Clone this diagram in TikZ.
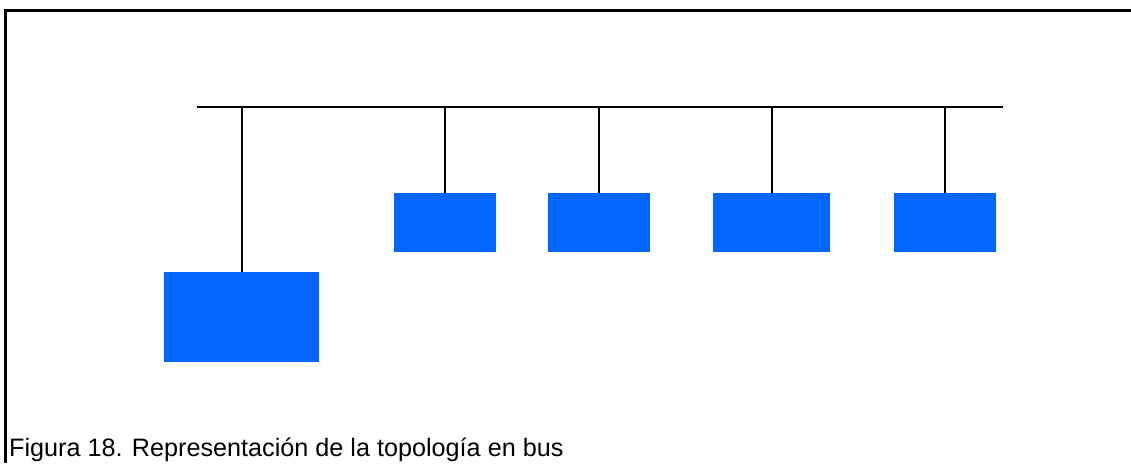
\documentclass[tikz,border=0pt]{standalone}
\usepackage{fontspec}
\setmainfont{Liberation Sans}
\begin{document}
\begin{tikzpicture}[x=1pt,y=-1pt,
  station/.style={fill=stationblue,draw=none,inner sep=0pt,minimum width=102pt,minimum height=59pt},
  tap/.style={draw=black,line width=2pt},
  frame/.style={draw=black,line width=3pt}]
\definecolor{stationblue}{HTML}{0066FF}
\useasboundingbox (0,0) rectangle (1131,463);
% partial frame: top and left edges
\draw[frame] (1131,10) -- (5.5,10) -- (5.5,463);
% bus line
\coordinate (busL) at (197,107);
\coordinate (busR) at (1003,107);
\draw[tap] (busL) -- (busR);
% stations
\node[station,minimum width=155pt,minimum height=90pt] (s0) at (241.5,317) {};
\node[station] (s1) at (445,222.5) {};
\node[station] (s2) at (599,222.5) {};
\node[station,minimum width=117pt] (s3) at (771.5,222.5) {};
\node[station] (s4) at (945,222.5) {};
% drop cables
\foreach \s in {s0,s1,s2,s3,s4}
  \draw[tap] (\s.north |- busL) -- (\s.north);
% caption
\node[anchor=base west,inner sep=0pt,font=\fontsize{25.2}{28}\selectfont] (cap) at (9,456) {Figura 18. Representación de la topología en bus};
\end{tikzpicture}
\end{document}
